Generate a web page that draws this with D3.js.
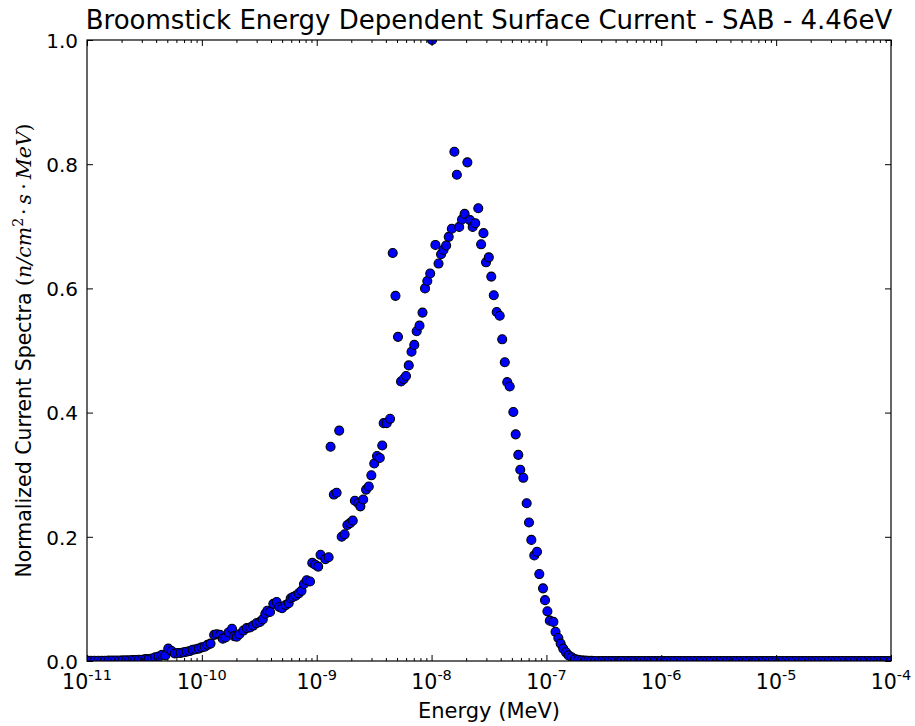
<!DOCTYPE html>
<html>
<head>
<meta charset="utf-8">
<script src="https://cdn.jsdelivr.net/npm/d3@7"></script>
<style>
  body { margin: 0; background: #fff; }
  svg { display: block; }
  text { font-family: "DejaVu Sans", sans-serif; fill: #000; }
</style>
</head>
<body>
<svg id="spectrum" width="915" height="726"></svg>
<script>
// Energy (MeV) and normalized current, split by region
var energyRise = [1.02e-11, 1.08e-11, 1.16e-11, 1.25e-11, 1.34e-11, 1.43e-11, 1.54e-11, 1.65e-11, 1.77e-11, 1.90e-11,
  2.04e-11, 2.19e-11, 2.34e-11, 2.49e-11, 2.64e-11, 2.82e-11, 3.01e-11, 3.22e-11, 3.44e-11, 3.68e-11,
  3.93e-11, 4.21e-11, 4.50e-11, 4.81e-11, 5.10e-11, 5.46e-11, 5.80e-11, 6.16e-11, 6.54e-11, 6.95e-11,
  7.38e-11, 7.84e-11, 8.32e-11, 8.84e-11, 9.39e-11, 9.97e-11, 1.06e-10, 1.12e-10, 1.19e-10, 1.28e-10,
  1.35e-10, 1.44e-10, 1.52e-10, 1.61e-10, 1.71e-10, 1.83e-10, 1.91e-10, 2.01e-10, 2.12e-10, 2.30e-10,
  2.46e-10, 2.63e-10, 2.80e-10, 3.00e-10, 3.21e-10, 3.39e-10, 3.57e-10, 3.71e-10, 3.92e-10, 4.19e-10,
  4.48e-10, 4.72e-10, 4.99e-10, 5.37e-10, 5.70e-10, 5.94e-10, 6.22e-10, 6.56e-10, 6.97e-10, 7.37e-10,
  7.75e-10, 8.18e-10, 8.74e-10, 9.15e-10, 9.70e-10, 1.03e-9, 1.08e-9, 1.19e-9, 1.27e-9]
var currentRise = [0.0003, 0.0003, 0.0004, 0.0004, 0.0005, 0.0005, 0.0006, 0.0007, 0.0008, 0.0009,
  0.0010, 0.0011, 0.0013, 0.0015, 0.0017, 0.002, 0.002, 0.003, 0.003, 0.004,
  0.006, 0.007, 0.010, 0.009, 0.020, 0.016, 0.012, 0.013, 0.013, 0.014,
  0.015, 0.016, 0.018, 0.019, 0.020, 0.022, 0.023, 0.026, 0.028, 0.042,
  0.043, 0.042, 0.036, 0.038, 0.046, 0.052, 0.040, 0.039, 0.043, 0.049,
  0.053, 0.054, 0.057, 0.061, 0.063, 0.067, 0.076, 0.081, 0.079, 0.092,
  0.095, 0.087, 0.085, 0.090, 0.093, 0.101, 0.103, 0.105, 0.109, 0.113,
  0.124, 0.130, 0.128, 0.158, 0.155, 0.152, 0.171, 0.164, 0.167]

var energyMid = [1.32e-9, 1.41e-9, 1.49e-9, 1.57e-9, 1.65e-9, 1.75e-9, 1.85e-9, 1.95e-9, 2.06e-9, 2.15e-9,
  2.30e-9, 2.40e-9, 2.54e-9, 2.69e-9, 2.84e-9, 2.99e-9, 3.17e-9, 3.35e-9, 3.54e-9, 3.72e-9,
  3.83e-9, 4.07e-9, 4.35e-9, 4.59e-9, 4.85e-9, 5.10e-9, 5.42e-9, 5.72e-9, 5.99e-9, 6.33e-9,
  6.69e-9, 7.07e-9, 7.42e-9, 7.85e-9, 8.34e-9, 8.77e-9, 9.18e-9, 9.73e-9]
var currentMid = [0.345, 0.268, 0.271, 0.371, 0.200, 0.204, 0.219, 0.222, 0.226, 0.258,
  0.254, 0.249, 0.260, 0.276, 0.281, 0.299, 0.318, 0.330, 0.327, 0.347,
  0.383, 0.383, 0.390, 0.657, 0.588, 0.522, 0.450, 0.454, 0.459, 0.476,
  0.498, 0.509, 0.531, 0.540, 0.561, 0.600, 0.612, 0.624]

var energyPeak = [1.01e-8, 1.08e-8, 1.15e-8, 1.21e-8, 1.27e-8, 1.34e-8, 1.41e-8, 1.50e-8, 1.58e-8, 1.66e-8,
  1.74e-8, 1.84e-8, 1.94e-8, 2.05e-8, 2.16e-8, 2.28e-8, 2.40e-8, 2.55e-8, 2.70e-8, 2.83e-8,
  2.98e-8, 3.15e-8, 3.31e-8, 3.48e-8, 3.69e-8, 3.92e-8, 4.12e-8, 4.34e-8, 4.56e-8, 4.79e-8,
  5.15e-8, 5.40e-8, 5.69e-8, 5.92e-8, 6.29e-8, 6.73e-8, 7.05e-8, 7.39e-8, 7.84e-8, 8.28e-8,
  8.67e-8, 9.34e-8, 9.72e-8]
var currentPeak = [1.000, 0.670, 0.640, 0.655, 0.662, 0.669, 0.683, 0.696, 0.820, 0.783,
  0.699, 0.711, 0.720, 0.803, 0.710, 0.699, 0.705, 0.729, 0.671, 0.689,
  0.642, 0.650, 0.619, 0.589, 0.562, 0.556, 0.518, 0.481, 0.449, 0.442,
  0.401, 0.365, 0.332, 0.308, 0.295, 0.254, 0.223, 0.195, 0.170, 0.176,
  0.140, 0.117, 0.098]

var energyTail = [1.02e-7, 1.07e-7, 1.15e-7, 1.20e-7, 1.27e-7, 1.33e-7, 1.40e-7, 1.48e-7, 1.56e-7, 1.66e-7,
  1.77e-7, 1.89e-7, 2.03e-7, 2.17e-7, 2.31e-7, 2.47e-7, 2.65e-7]
var currentTail = [0.080, 0.065, 0.063, 0.047, 0.037, 0.028, 0.020, 0.014, 0.009, 0.006,
  0.003, 0.002, 0.001, 0.0006, 0.0003, 0.0002, 0.0001]

var energyFlat = [2.86e-7, 3.05e-7, 3.26e-7, 3.48e-7, 3.72e-7, 3.97e-7, 4.24e-7, 4.52e-7, 4.83e-7, 5.16e-7,
  5.51e-7, 5.88e-7, 6.28e-7, 6.70e-7, 7.16e-7, 7.64e-7, 8.16e-7, 8.71e-7, 9.30e-7,
  1.00e-6, 1.07e-6, 1.14e-6, 1.22e-6, 1.30e-6, 1.39e-6, 1.48e-6, 1.58e-6, 1.69e-6, 1.80e-6,
  1.93e-6, 2.06e-6, 2.20e-6, 2.35e-6, 2.51e-6, 2.68e-6, 2.86e-6, 3.05e-6, 3.26e-6, 3.48e-6,
  3.72e-6, 3.97e-6, 4.24e-6, 4.52e-6, 4.83e-6, 5.16e-6, 5.51e-6, 5.88e-6, 6.28e-6, 6.70e-6,
  7.16e-6, 7.64e-6, 8.16e-6, 8.71e-6, 9.30e-6,
  1.00e-5, 1.07e-5, 1.14e-5, 1.22e-5, 1.30e-5, 1.39e-5, 1.48e-5, 1.58e-5, 1.69e-5, 1.80e-5,
  1.93e-5, 2.06e-5, 2.20e-5, 2.35e-5, 2.51e-5, 2.68e-5, 2.86e-5, 3.05e-5, 3.26e-5, 3.48e-5,
  3.72e-5, 3.97e-5, 4.24e-5, 4.52e-5, 4.83e-5, 5.16e-5, 5.51e-5, 5.88e-5, 6.28e-5, 6.70e-5,
  7.16e-5, 7.64e-5, 8.16e-5, 8.71e-5, 9.30e-5, 1.00e-4]
var currentFlat = [0, 0, 0, 0, 0, 0, 0, 0, 0, 0,
  0, 0, 0, 0, 0, 0, 0, 0, 0,
  0, 0, 0, 0, 0, 0, 0, 0, 0, 0,
  0, 0, 0, 0, 0, 0, 0, 0, 0, 0,
  0, 0, 0, 0, 0, 0, 0, 0, 0, 0,
  0, 0, 0, 0, 0,
  0, 0, 0, 0, 0, 0, 0, 0, 0, 0,
  0, 0, 0, 0, 0, 0, 0, 0, 0, 0,
  0, 0, 0, 0, 0, 0, 0, 0, 0, 0,
  0, 0, 0, 0, 0, 0]

var xMajor = [1e-11, 1e-10, 1e-9, 1e-8, 1e-7, 1e-6, 1e-5, 1e-4]
var xMajorExp = ['-11', '-10', '-9', '-8', '-7', '-6', '-5', '-4']
var yTicks = [0.0, 0.2, 0.4, 0.6, 0.8, 1.0]

var svg = d3.select('#spectrum')
var plotLeft = 87, plotRight = 891, plotTop = 40, plotBottom = 661

var x = d3.scaleLog().domain([1e-11, 1e-4]).range([plotLeft, plotRight])
var y = d3.scaleLinear().domain([0, 1]).range([plotBottom, plotTop])

svg.append('rect').attr('width', 915).attr('height', 726).attr('fill', '#fff')

svg.append('clipPath').attr('id', 'plotarea')
  .append('rect')
    .attr('x', plotLeft).attr('y', plotTop)
    .attr('width', plotRight - plotLeft).attr('height', plotBottom - plotTop)

var points = d3.zip(energyRise, currentRise)
  .concat(d3.zip(energyMid, currentMid))
  .concat(d3.zip(energyPeak, currentPeak))
  .concat(d3.zip(energyTail, currentTail))
  .concat(d3.zip(energyFlat, currentFlat))

svg.append('g')
    .attr('clip-path', 'url(#plotarea)')
  .selectAll('circle')
  .data(points)
  .enter().append('circle')
    .attr('cx', function (d) { return x(d[0]) })
    .attr('cy', function (d) { return y(d[1]) })
    .attr('r', 4.5)
    .attr('fill', '#0000ff')
    .attr('stroke', '#000')
    .attr('stroke-width', 1.1)

// ticks point inward on all four sides
var xMinor = x.ticks().filter(function (v) {
  return Math.abs(Math.log10(v) - Math.round(Math.log10(v))) > 1e-6
})

function tickGroup (axis, tx, ty) {
  var g = svg.append('g')
      .attr('transform', 'translate(' + tx + ',' + ty + ')')
      .call(axis)
  g.select('.domain').remove()
  g.selectAll('line').attr('stroke', '#000').attr('stroke-width', 1)
  return g
}

tickGroup(d3.axisBottom(x).tickValues(xMajor).tickSize(-6).tickFormat(''), 0, plotBottom)
tickGroup(d3.axisBottom(x).tickValues(xMinor).tickSize(-3).tickFormat(''), 0, plotBottom)
tickGroup(d3.axisTop(x).tickValues(xMajor).tickSize(-6).tickFormat(''), 0, plotTop)
tickGroup(d3.axisTop(x).tickValues(xMinor).tickSize(-3).tickFormat(''), 0, plotTop)
tickGroup(d3.axisRight(y).tickValues(yTicks).tickSize(-6).tickFormat(''), plotRight, 0)

var yAxis = tickGroup(d3.axisLeft(y).tickValues(yTicks).tickSize(-6).tickPadding(9)
    .tickFormat(d3.format('.1f')), plotLeft, 0)
yAxis.selectAll('text')
    .attr('font-family', '"DejaVu Sans", sans-serif')
    .attr('font-size', '20px')
    .attr('dy', '0.36em')

svg.append('rect')
    .attr('x', plotLeft).attr('y', plotTop)
    .attr('width', plotRight - plotLeft).attr('height', plotBottom - plotTop)
    .attr('fill', 'none')
    .attr('stroke', '#000')
    .attr('stroke-width', 1.2)

var xLabels = svg.append('g').selectAll('text')
  .data(xMajor)
  .enter().append('text')
    .attr('x', function (d) { return x(d) })
    .attr('y', 689)
    .attr('text-anchor', 'middle')
    .attr('font-size', '20.5px')
xLabels.append('tspan').text('10')
xLabels.append('tspan')
    .attr('dy', -9)
    .attr('font-size', '14.5px')
    .text(function (d, i) { return xMajorExp[i] })

svg.append('text')
    .attr('x', (plotLeft + plotRight) / 2)
    .attr('y', 29)
    .attr('text-anchor', 'middle')
    .attr('font-size', '26px')
    .text('Broomstick Energy Dependent Surface Current - SAB - 4.46eV')

svg.append('text')
    .attr('x', (plotLeft + plotRight) / 2)
    .attr('y', 718)
    .attr('text-anchor', 'middle')
    .attr('font-size', '21px')
    .text('Energy (MeV)')

var yLabel = svg.append('text')
    .attr('transform', 'translate(31,' + (plotTop + plotBottom) / 2 + ') rotate(-90)')
    .attr('text-anchor', 'middle')
    .attr('font-size', '20.5px')
yLabel.append('tspan').text('Normalized Current Spectra ')
var mathFont = '"DejaVu Serif", "Liberation Serif", serif'
yLabel.append('tspan').attr('font-family', mathFont).text('(')
yLabel.append('tspan').attr('font-family', mathFont).attr('font-style', 'italic').text('n/cm')
yLabel.append('tspan').attr('font-family', mathFont).attr('font-size', '14px').attr('dy', -8).text('2')
yLabel.append('tspan').attr('font-family', mathFont).attr('dy', 8).attr('dx', 3).text('\u00b7')
yLabel.append('tspan').attr('font-family', mathFont).attr('font-style', 'italic').attr('dx', 4).text('s')
yLabel.append('tspan').attr('font-family', mathFont).attr('dx', 4).text('\u00b7')
yLabel.append('tspan').attr('font-family', mathFont).attr('font-style', 'italic').attr('dx', 4).text('MeV')
yLabel.append('tspan').attr('font-family', mathFont).text(')')
</script>
</body>
</html>
